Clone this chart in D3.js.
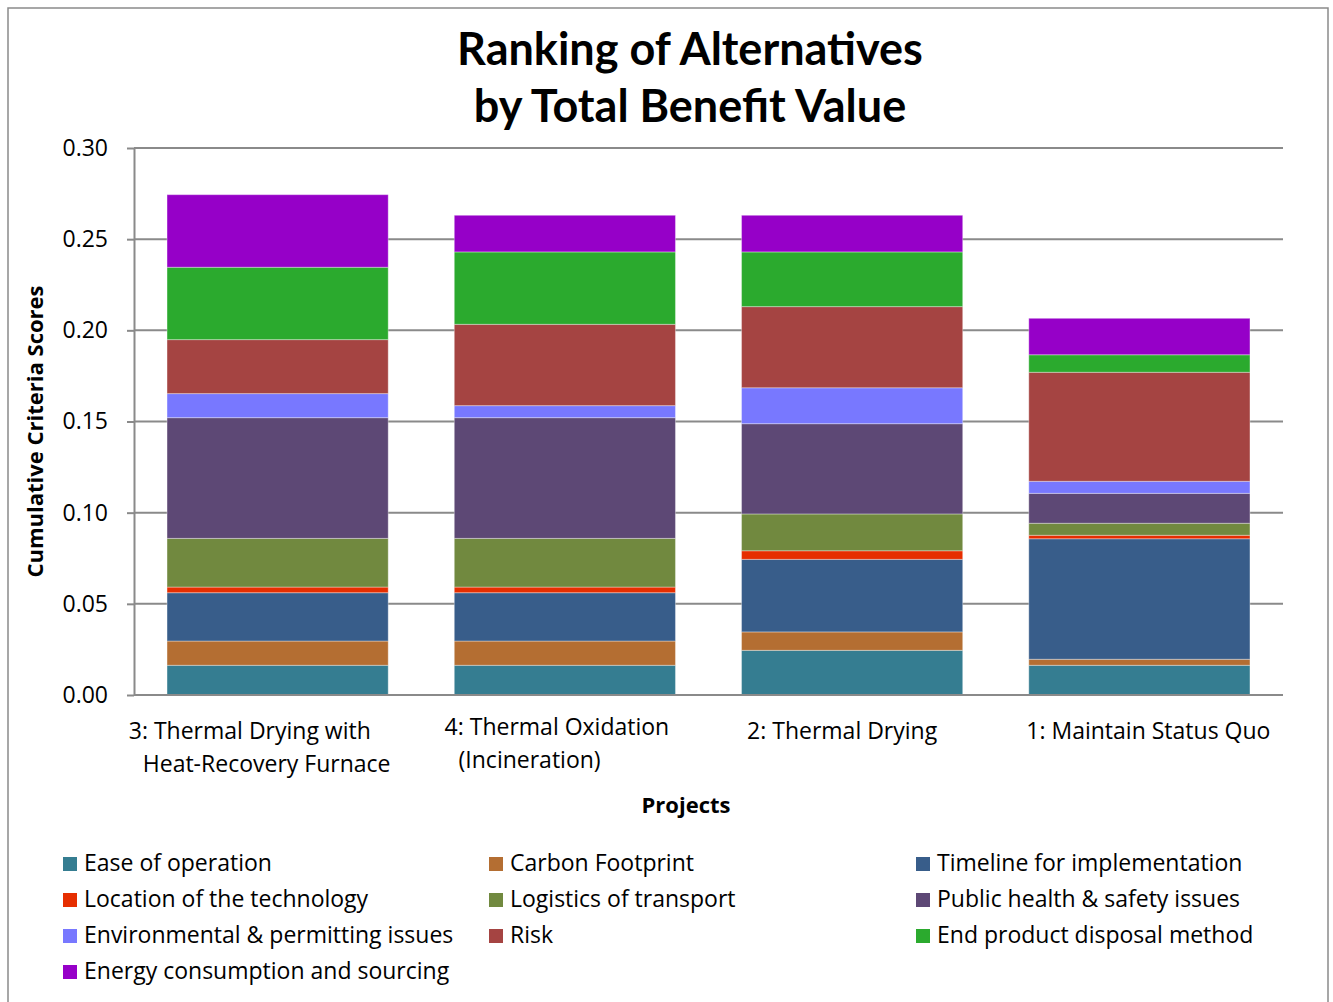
<!DOCTYPE html>
<html>
<head>
<meta charset="utf-8">
<script src="https://cdnjs.cloudflare.com/ajax/libs/d3/7.8.5/d3.min.js"></script>
<style>
  html, body { margin: 0; padding: 0; background: #fff; }
  svg { display: block; }
  text { font-family: "Open Sans", Lato, sans-serif; fill: #000; }
</style>
</head>
<body>
<svg id="chart" width="1333" height="1002"></svg>
<script>
// ---- Data ----
const categories = [
  ["3: Thermal Drying with", "Heat-Recovery Furnace"],
  ["4: Thermal Oxidation", "(Incineration)"],
  ["2: Thermal Drying"],
  ["1: Maintain Status Quo"]
];
const seriesNames = [
  "Ease of operation", "Carbon Footprint", "Timeline for implementation",
  "Location of the technology", "Logistics of transport", "Public health & safety issues",
  "Environmental & permitting issues", "Risk", "End product disposal method",
  "Energy consumption and sourcing"
];
const seriesColors = [
  "#357D91", "#B46E32", "#385D8A",
  "#E62E00", "#71893F", "#5D4875",
  "#7878FF", "#A54442", "#2BAA2E",
  "#9600C8"
];
// values per series, one per category (in category order)
const easeOfOperation   = [0.0163, 0.0163, 0.0245, 0.0163];
const carbonFootprint   = [0.0133, 0.0133, 0.0101, 0.0033];
const timelineImpl      = [0.0265, 0.0265, 0.0398, 0.0661];
const locationTech      = [0.0031, 0.0031, 0.0047, 0.0019];
const logisticsTransp   = [0.0267, 0.0267, 0.0202, 0.0066];
const publicHealth      = [0.0662, 0.0662, 0.0495, 0.0164];
const environmental     = [0.0132, 0.0066, 0.0197, 0.0066];
const riskValues        = [0.0296, 0.0446, 0.0445, 0.0598];
const endProduct        = [0.0397, 0.0397, 0.0300, 0.0096];
const energyConsumption = [0.0398, 0.0201, 0.0201, 0.0200];
const seriesValues = [easeOfOperation, carbonFootprint, timelineImpl, locationTech, logisticsTransp,
  publicHealth, environmental, riskValues, endProduct, energyConsumption];
const yTicks = [0, 0.05, 0.10, 0.15, 0.20, 0.25, 0.30];

const titleLines = ["Ranking of Alternatives", "by Total Benefit Value"];
const yAxisTitle = "Cumulative Criteria Scores";
const xAxisTitle = "Projects";

// ---- Layout ----
const svg = d3.select("#chart");
const plot = { left: 134, right: 1283, top: 148, bottom: 695 };
const gridColor = "#8a8a8a";
const FS = 23;
const labelShift = [-18, -8, -10, 9];   // horizontal nudge of each category label block
const wrapIndent = 14;                  // indent of wrapped label lines

// outer chart border
svg.append("rect").attr("x", 8).attr("y", 8).attr("width", 1320).attr("height", 1010)
  .attr("fill", "none").attr("stroke", "#8a8a8a").attr("stroke-width", 1.5);

const catKeys = categories.map((c, i) => i);
const x = d3.scaleBand().domain(catKeys).range([plot.left, plot.right]).paddingInner(0.23).paddingOuter(0.115);
const y = d3.scaleLinear().domain([0, 0.30]).range([plot.bottom, plot.top]);

// gridlines
svg.append("g").selectAll("line").data(yTicks).join("line")
  .attr("x1", plot.left).attr("x2", plot.right)
  .attr("y1", d => y(d)).attr("y2", d => y(d))
  .attr("stroke", gridColor).attr("stroke-width", 2);

// y axis
const yAxis = d3.axisLeft(y).tickValues(yTicks).tickFormat(d3.format(".2f")).tickSizeInner(7).tickSizeOuter(0).tickPadding(19);
const gy = svg.append("g").attr("transform", `translate(${plot.left},0)`).call(yAxis);
gy.select(".domain").attr("stroke", gridColor).attr("stroke-width", 2);
gy.selectAll(".tick line").attr("stroke", gridColor).attr("stroke-width", 2);
gy.selectAll(".tick text").attr("font-size", FS).attr("font-family", "'Open Sans', Lato, sans-serif").attr("fill", "#000");

// stacked data
const rows = catKeys.map(i => {
  const r = { cat: i };
  seriesNames.forEach((s, k) => r[s] = seriesValues[k][i]);
  return r;
});
const stacked = d3.stack().keys(seriesNames)(rows);

svg.append("g").selectAll("g").data(stacked).join("g")
  .attr("fill", (d, k) => seriesColors[k])
  .selectAll("rect").data(d => d).join("rect")
  .attr("x", d => x(d.data.cat))
  .attr("width", x.bandwidth())
  .attr("y", d => y(d[1]))
  .attr("height", d => y(d[0]) - y(d[1]))
  .attr("stroke", "rgba(255,255,255,0.35)").attr("stroke-width", 1);

// x baseline
svg.append("line").attr("x1", plot.left).attr("x2", plot.right)
  .attr("y1", plot.bottom).attr("y2", plot.bottom)
  .attr("stroke", gridColor).attr("stroke-width", 2);

// x labels
const xl = svg.append("g");
categories.forEach((lines, i) => {
  const g = xl.append("g");
  const texts = lines.map((ln, j) => g.append("text")
    .attr("font-size", FS).attr("y", 739 + j * 33 - (lines.length > 1 && i === 1 ? 4 : 0)).text(ln));
  const widths = texts.map((t, j) => t.node().getComputedTextLength() + (j > 0 ? wrapIndent : 0));
  const w = d3.max(widths);
  const left = x(i) + x.bandwidth() / 2 + labelShift[i] - w / 2;
  texts.forEach((t, j) => t.attr("x", left + (j > 0 ? wrapIndent : 0)));
});

// axis titles
svg.append("text").attr("transform", `translate(43,${(plot.top + plot.bottom) / 2 + 10}) rotate(-90)`)
  .attr("text-anchor", "middle").attr("font-size", FS - 1).attr("font-weight", "bold").text(yAxisTitle);
svg.append("text").attr("x", 686).attr("y", 813).attr("text-anchor", "middle")
  .attr("font-size", FS - 1).attr("font-weight", "bold").text(xAxisTitle);

// chart title
svg.append("g").selectAll("text").data(titleLines).join("text")
  .style("font-family", "Lato, 'Open Sans', sans-serif")
  .attr("x", 690).attr("y", (d, i) => 65 + i * 57)
  .attr("text-anchor", "middle").attr("font-size", 45).attr("font-weight", "bold")
  .text(d => d);

// legend
const legCols = [63, 489, 916];
const leg = svg.append("g").selectAll("g").data(seriesNames).join("g")
  .attr("transform", (d, i) => `translate(${legCols[i % 3]},${857 + Math.floor(i / 3) * 36})`);
leg.append("rect").attr("width", 14).attr("height", 14).attr("fill", (d, i) => seriesColors[i]);
leg.append("text").attr("x", 21).attr("y", 14).attr("font-size", FS).text(d => d);
</script>
</body>
</html>
